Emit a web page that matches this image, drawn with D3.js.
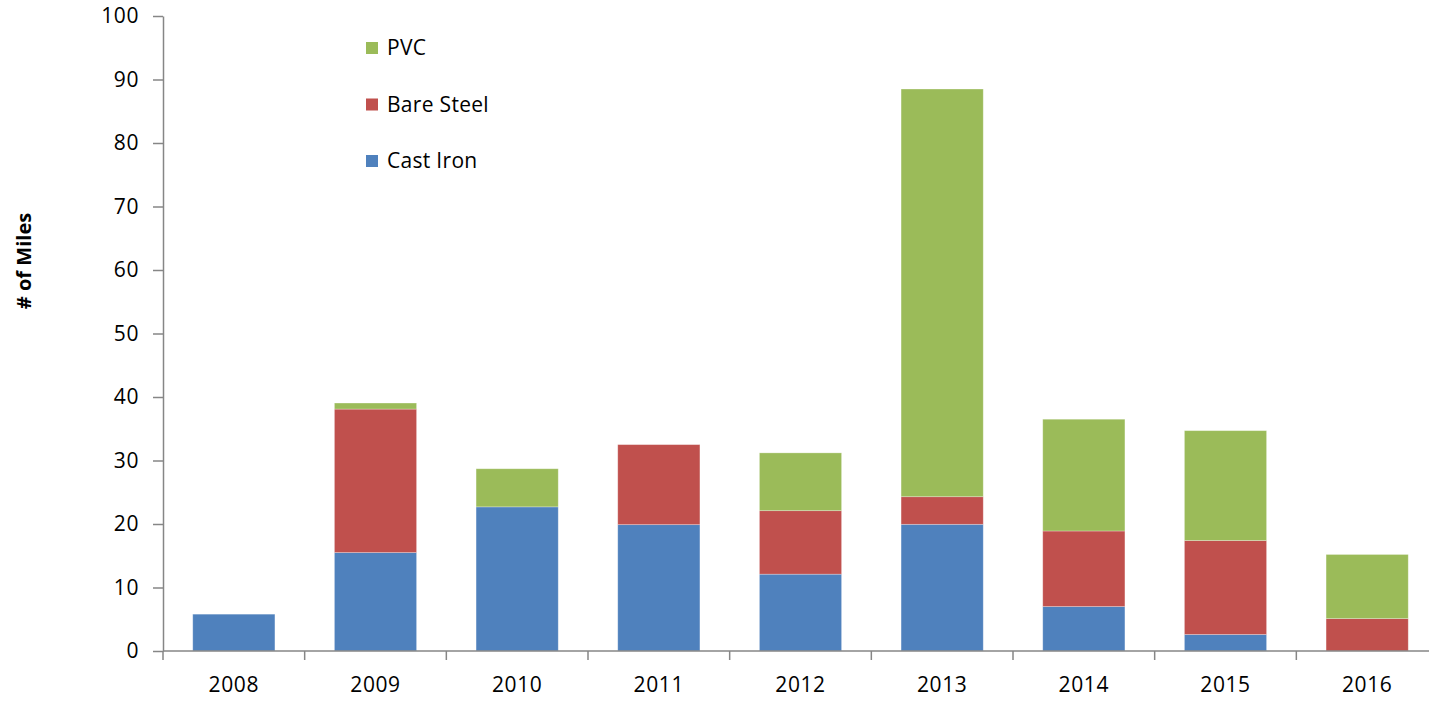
<!DOCTYPE html>
<html>
<head>
<meta charset="utf-8">
<script src="https://cdn.jsdelivr.net/npm/d3@7"></script>
<style>
  body { margin: 0; background: #fff; }
  text { font-family: "Open Sans", "Liberation Sans", sans-serif; fill: #000; }
</style>
</head>
<body>
<svg width="1429" height="701"></svg>
<script>
// data
const years = ['2008', '2009', '2010', '2011', '2012', '2013', '2014', '2015', '2016'];
const castIron = [5.8, 15.5, 22.7, 19.9, 12.1, 19.95, 7.0, 2.6, 0];
const bareSteel = [0, 22.6, 0, 12.6, 10.0, 4.35, 11.9, 14.8, 5.1];
const pvc = [0, 0.95, 6.0, 0, 9.1, 64.2, 17.6, 17.3, 10.1];
const seriesNames = ['Cast Iron', 'Bare Steel', 'PVC'];
const colors = ['#4F81BD', '#C0504D', '#9BBB59'];
const yTicks = [0, 10, 20, 30, 40, 50, 60, 70, 80, 90, 100];

const svg = d3.select('svg');
const margin = {top: 16, left: 163, right: -9, bottom: 50};
const width = +svg.attr('width');
const height = +svg.attr('height');
const innerWidth = width - margin.left - margin.right;
const innerHeight = height - margin.top - margin.bottom;

let rows = years.map((y, i) => ({
  year: y,
  'Cast Iron': castIron[i],
  'Bare Steel': bareSteel[i],
  'PVC': pvc[i]
}));
const stacked = d3.stack().keys(seriesNames)(rows);

const xScale = d3.scaleBand()
  .domain(years)
  .range([0, innerWidth])
  .paddingInner(0.42)
  .paddingOuter(0.21);
const yScale = d3.scaleLinear()
  .domain([0, 100])
  .range([innerHeight, 0]);

const g = svg.append('g')
  .attr('transform', `translate(${margin.left}, ${margin.top})`);

// bars
g.selectAll('g.series').data(stacked)
  .enter().append('g')
    .attr('class', 'series')
    .attr('fill', (d, i) => colors[i])
  .selectAll('rect').data(d => d.filter(p => p[1] - p[0] > 0))
  .enter().append('rect')
    .attr('x', d => xScale(d.data.year))
    .attr('y', d => yScale(d[1]))
    .attr('width', xScale.bandwidth())
    .attr('height', d => yScale(d[0]) - yScale(d[1]))
    .attr('stroke', '#fff')
    .attr('stroke-opacity', 0.35)
    .attr('stroke-width', 0.8);

// y axis
const yAxis = g.append('g')
  .call(d3.axisLeft(yScale).tickValues(yTicks).tickSize(10).tickPadding(14).tickSizeOuter(0));
yAxis.select('.domain').attr('stroke', '#868686').attr('stroke-width', 1.5);
yAxis.selectAll('.tick line').attr('stroke', '#868686').attr('stroke-width', 1.5);
yAxis.selectAll('.tick text')
  .attr('font-size', 21)
  .attr('letter-spacing', 0.6)
  .attr('fill', '#000');

// x axis: ticks sit on band edges
const xAxis = g.append('g')
  .attr('transform', `translate(0, ${innerHeight})`);
xAxis.append('line')
  .attr('x1', 0).attr('x2', innerWidth)
  .attr('stroke', '#868686').attr('stroke-width', 1.5);
const step = xScale.step();
xAxis.selectAll('line.tk').data(d3.range(years.length + 1))
  .enter().append('line')
    .attr('class', 'tk')
    .attr('x1', i => xScale(years[0]) - step * 0.21 + i * step)
    .attr('x2', i => xScale(years[0]) - step * 0.21 + i * step)
    .attr('y1', 0).attr('y2', 9)
    .attr('stroke', '#868686').attr('stroke-width', 1.5);
xAxis.selectAll('text').data(years)
  .enter().append('text')
    .attr('x', d => xScale(d) + xScale.bandwidth() / 2)
    .attr('y', 41)
    .attr('text-anchor', 'middle')
    .attr('font-size', 21)
    .attr('letter-spacing', 0.6)
    .text(d => d);

// y title
svg.append('text')
  .attr('transform', 'translate(31, 261) rotate(-90)')
  .attr('text-anchor', 'middle')
  .attr('font-size', 20)
  .attr('font-weight', 'bold')
  .text('# of Miles');

// legend, top to bottom: PVC, Bare Steel, Cast Iron
const legendItems = seriesNames.slice().reverse();
const legend = svg.append('g').attr('transform', 'translate(366, 48)');
legendItems.forEach((name, i) => {
  const item = legend.append('g').attr('transform', `translate(0, ${i * 56.5})`);
  item.append('rect')
    .attr('x', 0).attr('y', -6)
    .attr('width', 12).attr('height', 12)
    .attr('fill', colors[seriesNames.indexOf(name)]);
  item.append('text')
    .attr('x', 21).attr('y', 7)
    .attr('font-size', 21)
    .attr('letter-spacing', 0.3)
    .text(name);
});
</script>
</body>
</html>
